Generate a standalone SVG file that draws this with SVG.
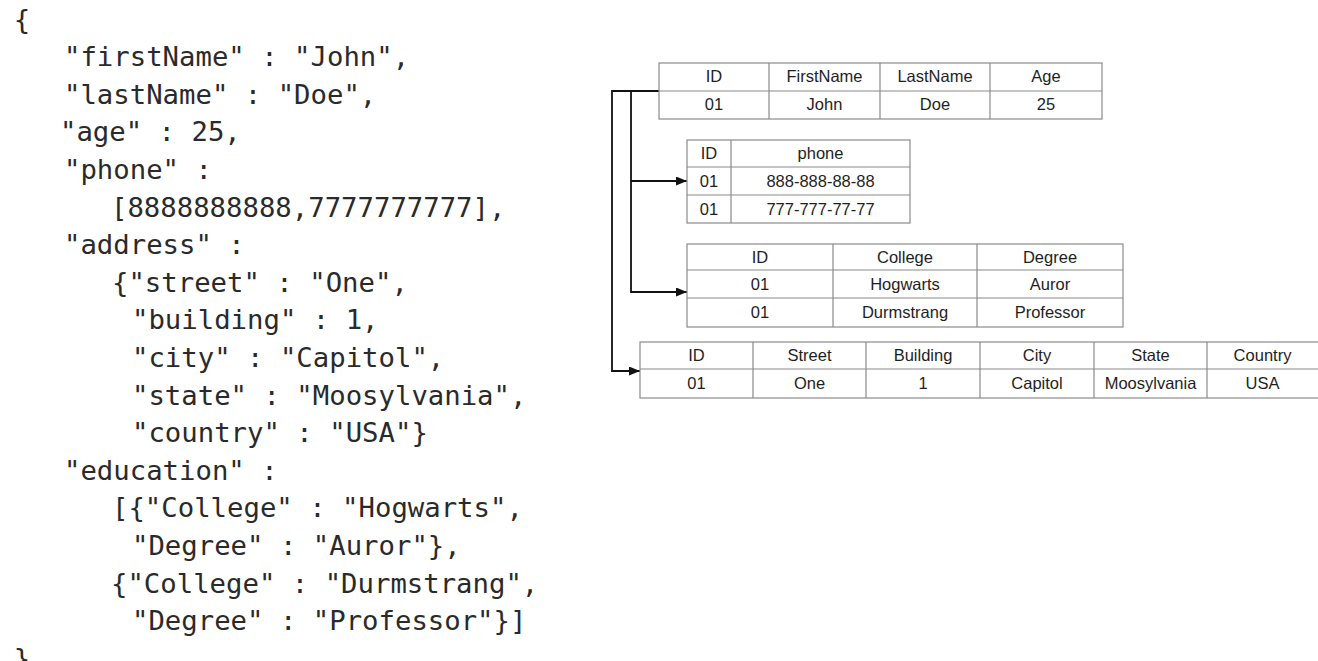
<svg xmlns="http://www.w3.org/2000/svg" width="1318" height="661" viewBox="0 0 1318 661">
<style>
.code{font-family:"DejaVu Sans Mono","Liberation Mono",monospace;font-size:27.3px;fill:#2a2a2a}
.cell{fill:#fff;stroke:#8a8a8a;stroke-width:1.2}
.grid{stroke:#8a8a8a;stroke-width:1.2;fill:none}
.t{font-family:"Liberation Sans",Arial,sans-serif;font-size:16.5px;fill:#1e1e1e;text-anchor:middle}
.conn{stroke:#111;stroke-width:1.8;fill:none}
</style>
<defs>
<marker id="arr" markerUnits="userSpaceOnUse" markerWidth="11" markerHeight="9" refX="11" refY="4.5" orient="auto">
<path d="M0,0 L11,4.5 L0,9 z" fill="#111"/>
</marker>
</defs>
<rect width="1318" height="661" fill="#fff"/>
<g id="json">
<text class="code" x="13.7" y="28.5">{</text>
<text class="code" x="64" y="66.1">"firstName" : "John",</text>
<text class="code" x="64" y="103.7">"lastName" : "Doe",</text>
<text class="code" x="60" y="141.3">"age" : 25,</text>
<text class="code" x="64" y="178.9">"phone" :</text>
<text class="code" x="111" y="216.5">[8888888888,7777777777],</text>
<text class="code" x="64" y="254.1">"address" :</text>
<text class="code" x="112" y="291.7">{"street" : "One",</text>
<text class="code" x="132" y="329.3">"building" : 1,</text>
<text class="code" x="132" y="366.9">"city" : "Capitol",</text>
<text class="code" x="132" y="404.5">"state" : "Moosylvania",</text>
<text class="code" x="132" y="442.1">"country" : "USA"}</text>
<text class="code" x="64" y="479.7">"education" :</text>
<text class="code" x="112" y="517.3">[{"College" : "Hogwarts",</text>
<text class="code" x="132" y="554.9">"Degree" : "Auror"},</text>
<text class="code" x="111" y="592.5">{"College" : "Durmstrang",</text>
<text class="code" x="132" y="630.1">"Degree" : "Professor"}]</text>
<text class="code" x="13.7" y="667.7">}</text>
</g>
<g id="connectors">
<path class="conn" d="M659,91 H612 V371 H640" marker-end="url(#arr)"/>
<path class="conn" d="M631,91 V292 H687" marker-end="url(#arr)"/>
<path class="conn" d="M631,181 H687" marker-end="url(#arr)"/>
</g>
<g id="person">
<rect class="cell" x="659" y="63" width="443" height="56"/>
<path class="grid" d="M659,91 H1102 M769,63 V119 M880,63 V119 M990,63 V119"/>
<text class="t" x="714" y="82">ID</text>
<text class="t" x="824.5" y="82">FirstName</text>
<text class="t" x="935" y="82">LastName</text>
<text class="t" x="1046" y="82">Age</text>
<text class="t" x="714" y="110">01</text>
<text class="t" x="824.5" y="110">John</text>
<text class="t" x="935" y="110">Doe</text>
<text class="t" x="1046" y="110">25</text>
</g>
<g id="phone">
<rect class="cell" x="687" y="140" width="223" height="83"/>
<path class="grid" d="M687,167 H910 M687,195 H910 M731,140 V223"/>
<text class="t" x="709" y="159">ID</text>
<text class="t" x="820.5" y="159">phone</text>
<text class="t" x="709" y="187">01</text>
<text class="t" x="820.5" y="187">888-888-88-88</text>
<text class="t" x="709" y="215">01</text>
<text class="t" x="820.5" y="215">777-777-77-77</text>
</g>
<g id="education">
<rect class="cell" x="687" y="244" width="436" height="83"/>
<path class="grid" d="M687,270 H1123 M687,298 H1123 M833,244 V327 M977,244 V327"/>
<text class="t" x="760" y="263">ID</text>
<text class="t" x="905" y="263">College</text>
<text class="t" x="1050" y="263">Degree</text>
<text class="t" x="760" y="290">01</text>
<text class="t" x="905" y="290">Hogwarts</text>
<text class="t" x="1050" y="290">Auror</text>
<text class="t" x="760" y="318">01</text>
<text class="t" x="905" y="318">Durmstrang</text>
<text class="t" x="1050" y="318">Professor</text>
</g>
<g id="address">
<rect class="cell" x="640" y="342" width="690" height="56"/>
<path class="grid" d="M640,369 H1330 M753,342 V398 M866,342 V398 M980,342 V398 M1094,342 V398 M1207,342 V398"/>
<text class="t" x="696.5" y="361">ID</text>
<text class="t" x="809.5" y="361">Street</text>
<text class="t" x="923" y="361">Building</text>
<text class="t" x="1037" y="361">City</text>
<text class="t" x="1150.5" y="361">State</text>
<text class="t" x="1262.5" y="361">Country</text>
<text class="t" x="696.5" y="389">01</text>
<text class="t" x="809.5" y="389">One</text>
<text class="t" x="923" y="389">1</text>
<text class="t" x="1037" y="389">Capitol</text>
<text class="t" x="1150.5" y="389">Moosylvania</text>
<text class="t" x="1262.5" y="389">USA</text>
</g>
</svg>
